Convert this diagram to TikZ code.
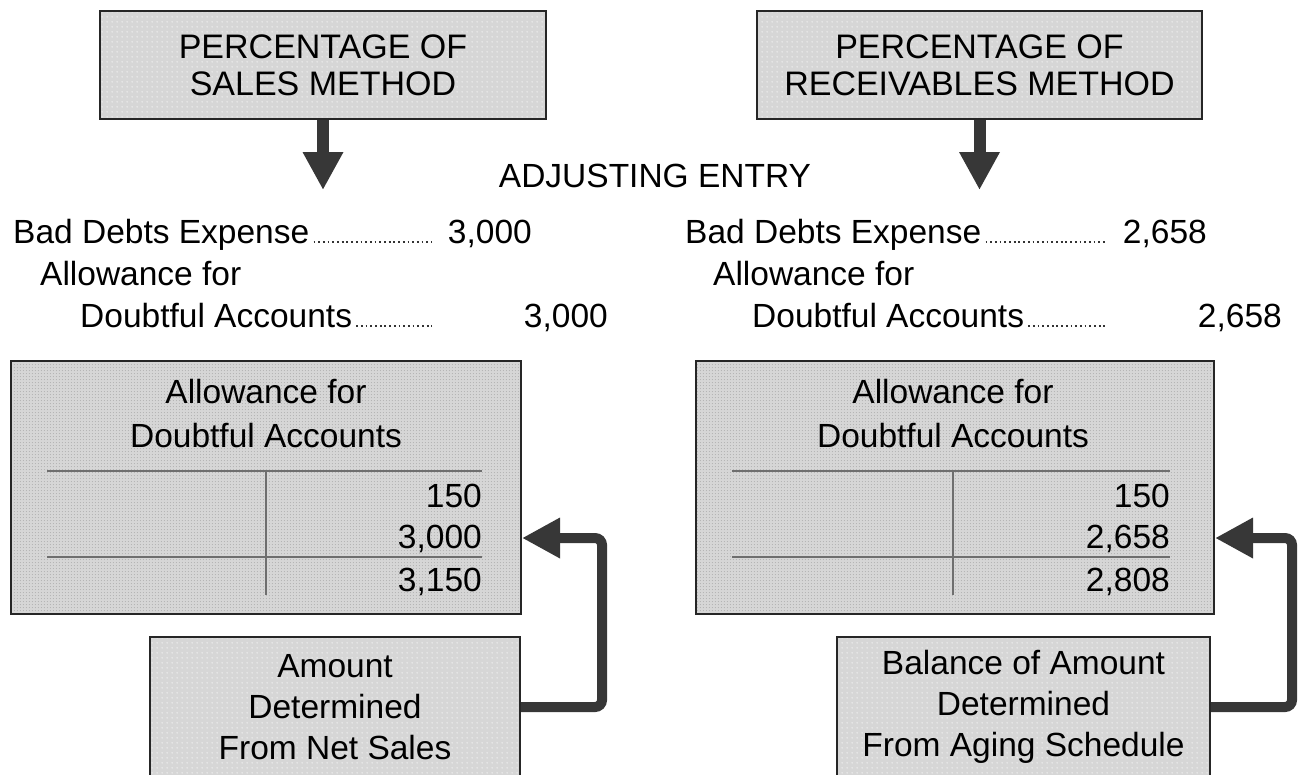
\documentclass[tikz,border=0pt]{standalone}
\usepackage{fontspec}
\setmainfont{Liberation Sans}
\usetikzlibrary{arrows.meta,patterns.meta}
\definecolor{boxgray}{RGB}{214,214,214}
\definecolor{arrowgray}{RGB}{55,55,55}
\definecolor{tlinegray}{RGB}{110,110,110}
\definecolor{dotgray}{RGB}{178,178,178}
\tikzdeclarepattern{name=wdots, type=uncolored,
  bounding box={(0pt,0pt) and (5pt,5pt)}, tile size={(5pt,5pt)},
  code={\pgfpathcircle{\pgfqpoint{2.5pt}{2.5pt}}{0.75pt}\pgfusepath{fill}}}
\tikzdeclarepattern{name=gdots, type=uncolored,
  bounding box={(0pt,0pt) and (3.4pt,3.4pt)}, tile size={(3.4pt,3.4pt)},
  code={\pgfpathcircle{\pgfqpoint{1.7pt}{1.7pt}}{0.6pt}\pgfusepath{fill}}}
\begin{document}
\begin{tikzpicture}[x=1pt,y=-1pt,
  hbox/.style={draw=black!85, line width=2pt, preaction={fill=boxgray},
    pattern=wdots, pattern color=white, align=center, inner sep=0pt,
    font=\fontsize{34}{37}\selectfont},
  botbox/.style={hbox, font=\fontsize{33.5}{41}\selectfont},
  tbox/.style={draw=black!85, line width=2pt, preaction={fill=boxgray},
    pattern=gdots, pattern color=dotgray, inner sep=0pt},
  txt/.style={inner sep=0pt, font=\fontsize{33.5}{41}\selectfont},
  leader/.style={draw=black!80, line width=1.8pt, dash pattern=on 1.8pt off 2.9pt},
  tacct/.style={draw=tlinegray, line width=2.5pt},
  downarr/.style={draw=arrowgray, line width=12pt, -{Triangle[length=38pt,width=38pt]}},
  fback/.style={draw=arrowgray, line width=10pt, rounded corners=7pt,
    -{Triangle[length=38pt,width=38pt]}}]
\useasboundingbox (0,0) rectangle (1303,774);
\clip (0,0) rectangle (1303,774);

% header boxes
\node[hbox, minimum width=446pt, minimum height=108pt] (hl) at (323,65) {PERCENTAGE OF\\SALES METHOD};
\node[hbox, minimum width=445pt, minimum height=108pt] (hr) at (979.5,65) {PERCENTAGE OF\\RECEIVABLES METHOD};
\coordinate (al) at (323,190);
\coordinate (ar) at (979.5,190);
\draw[downarr] (hl.south) -- (al);
\draw[downarr] (hr.south) -- (ar);

\node[txt, anchor=base] (adj) at (655,187) {ADJUSTING ENTRY};

% journal entry left
\node[txt, anchor=base west] (l1) at (13,243) {Bad Debts Expense};
\node[txt, anchor=base east] (l1a) at (532,243) {3,000};
\node[txt, anchor=base west] (l2) at (40,285) {Allowance for};
\node[txt, anchor=base west] (l3) at (80,327) {Doubtful Accounts};
\node[txt, anchor=base east] (l3a) at (608,327) {3,000};
\draw[leader] ([xshift=4pt,yshift=1pt]l1.base east) -- (432,242);
\draw[leader] ([xshift=4pt,yshift=1pt]l3.base east) -- (432,326);

% journal entry right
\node[txt, anchor=base west] (r1) at (685,243) {Bad Debts Expense};
\node[txt, anchor=base east] (r1a) at (1207,243) {2,658};
\node[txt, anchor=base west] (r2) at (713,285) {Allowance for};
\node[txt, anchor=base west] (r3) at (752,327) {Doubtful Accounts};
\node[txt, anchor=base east] (r3a) at (1282,327) {2,658};
\draw[leader] ([xshift=4pt,yshift=1pt]r1.base east) -- (1105,242);
\draw[leader] ([xshift=4pt,yshift=1pt]r3.base east) -- (1105,326);

% T-accounts
\node[tbox, anchor=north west, minimum width=510pt, minimum height=253pt] (tl) at (10,360) {};
\node[tbox, anchor=north west, minimum width=518pt, minimum height=253pt] (tr) at (695,360) {};

\node[txt, anchor=base] (tlt1) at (266,403) {Allowance for};
\node[txt, anchor=base] (tlt2) at (266,447) {Doubtful Accounts};
\draw[tacct] (47,471) -- (482,471);
\draw[tacct] (266,471) -- (266,595);
\draw[tacct] (47,557) -- (482,557);
\node[txt, anchor=base east] (tln1) at (482,507) {150};
\node[txt, anchor=base east] (tln2) at (482,548) {3,000};
\node[txt, anchor=base east] (tln3) at (482,591) {3,150};

\node[txt, anchor=base] (trt1) at (953,403) {Allowance for};
\node[txt, anchor=base] (trt2) at (953,447) {Doubtful Accounts};
\draw[tacct] (732,471) -- (1170,471);
\draw[tacct] (953,471) -- (953,595);
\draw[tacct] (732,557) -- (1170,557);
\node[txt, anchor=base east] (trn1) at (1170,507) {150};
\node[txt, anchor=base east] (trn2) at (1170,548) {2,658};
\node[txt, anchor=base east] (trn3) at (1170,591) {2,808};

% bottom boxes
\node[botbox, minimum width=370pt, minimum height=140pt] (bl) at (335,707) {Amount\\Determined\\From Net Sales};
\node[botbox, minimum width=373pt, minimum height=140pt] (br) at (1023.5,707) {Balance of Amount\\Determined\\From Aging Schedule};

% feedback arrows
\coordinate (kl) at (602,538);
\coordinate (kr) at (1292,538);
\draw[fback] (bl.east) -| (kl) -- (tl.east |- kl);
\draw[fback] (br.east) -| (kr) -- (tr.east |- kr);
\end{tikzpicture}
\end{document}
